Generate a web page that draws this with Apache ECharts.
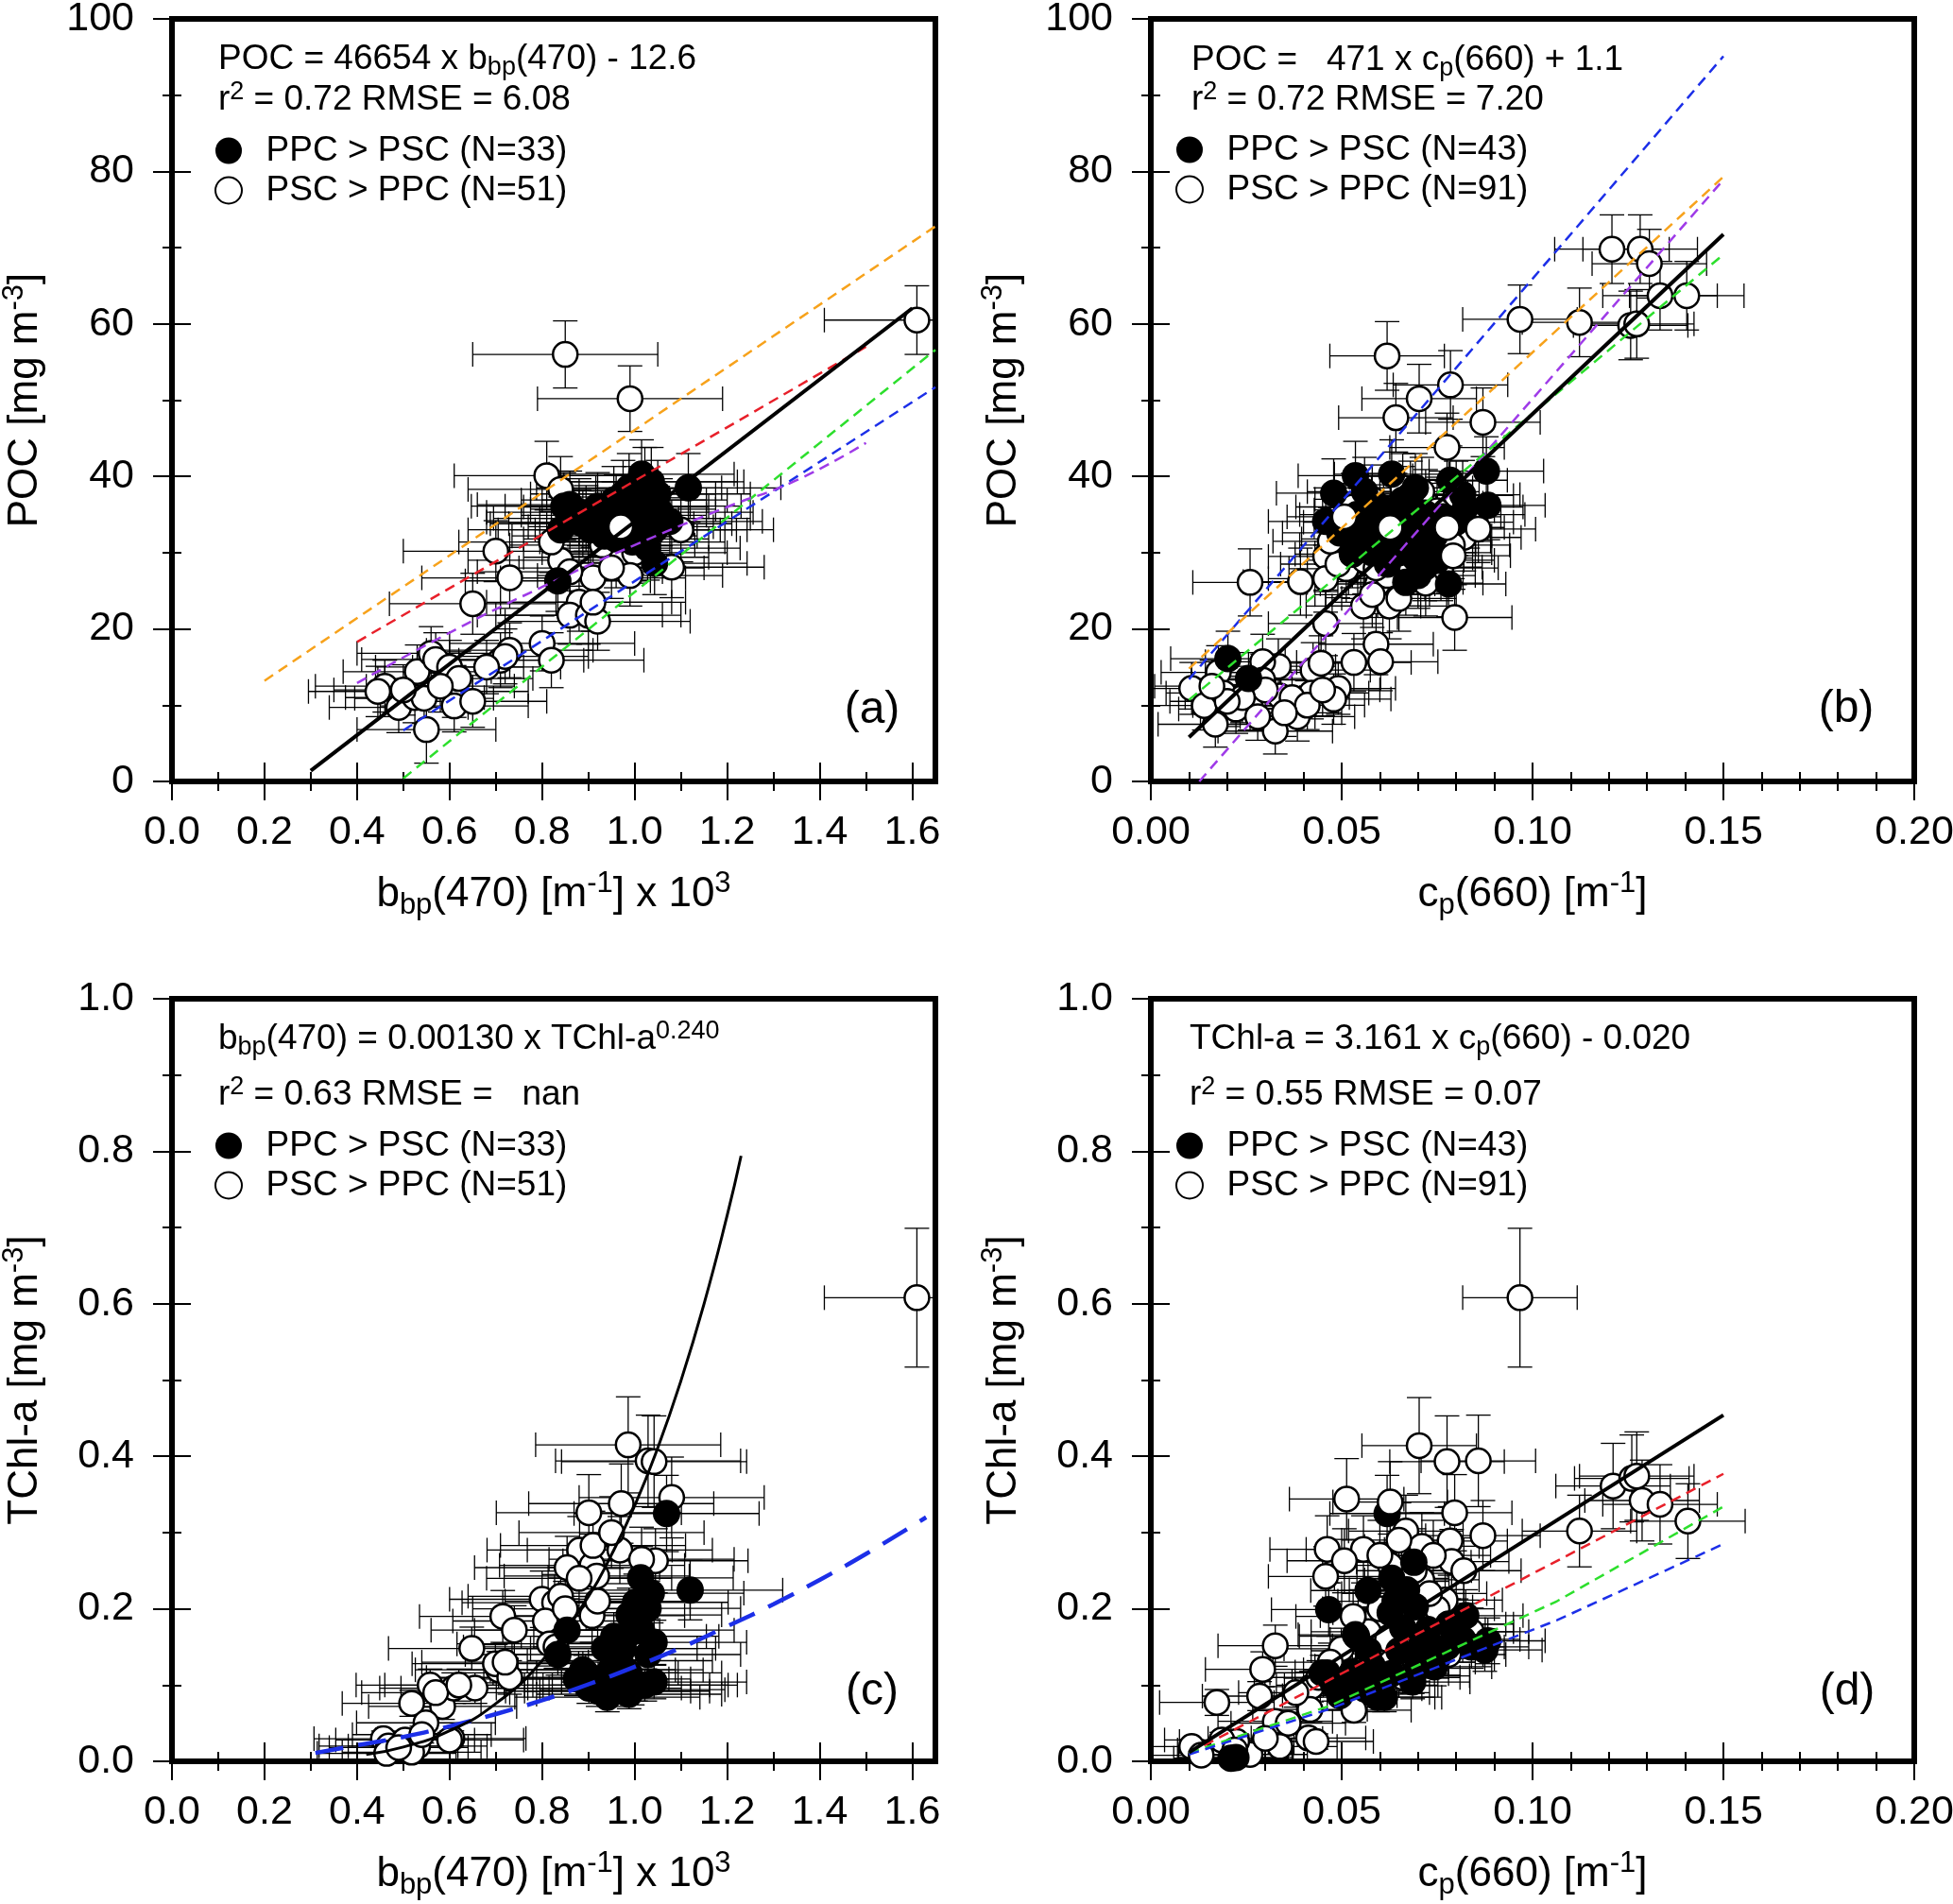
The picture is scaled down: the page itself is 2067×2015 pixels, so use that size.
<!DOCTYPE html>
<html><head><meta charset="utf-8">
<script src="https://cdn.jsdelivr.net/npm/echarts@6/dist/echarts.min.js"></script>
<style>html,body{margin:0;padding:0;background:#fff}#c{width:2067px;height:2015px}</style>
</head><body><div id="c"></div>
<script>
// ---------------- tick values ----------------
const bbpMajor = [0, 0.2, 0.4, 0.6, 0.8, 1.0, 1.2, 1.4, 1.6];
const bbpMinor = [0.1, 0.3, 0.5, 0.7, 0.9, 1.1, 1.3, 1.5];
const cpMajor = [0, 0.05, 0.1, 0.15, 0.2];
const cpMinor = [0.01, 0.02, 0.03, 0.04, 0.06, 0.07, 0.08, 0.09, 0.11, 0.12, 0.13, 0.14, 0.16, 0.17, 0.18, 0.19];
const pocMajor = [0, 20, 40, 60, 80, 100];
const pocMinor = [10, 30, 50, 70, 90];
const chlMajor = [0, 0.2, 0.4, 0.6, 0.8, 1.0];
const chlMinor = [0.1, 0.3, 0.5, 0.7, 0.9];

// ---------------- data: [x, y, xErr, yErr] ----------------
// (a) POC vs bbp(470)
const aFilled = [[1.116,38.5,0.2,4.5],[1.015,40.3,0.2,4.5],[1.022,39.3,0.2,4.5],[0.988,38.5,0.2,4.5],[1.0,36.9,0.2,4.4],[1.03,36.1,0.2,4.4],[0.847,36.1,0.2,4.4],[0.86,36.3,0.2,4.4],[0.88,35.3,0.2,4.4],[0.84,33.0,0.2,4.3],[0.905,33.0,0.2,4.3],[0.928,33.8,0.2,4.3],[0.955,34.9,0.2,4.4],[0.975,35.7,0.2,4.4],[0.995,34.5,0.2,4.4],[1.043,33.0,0.2,4.3],[1.076,34.1,0.2,4.3],[0.995,31.4,0.2,4.2],[1.028,30.6,0.2,4.2],[1.043,28.6,0.2,4.1],[0.834,26.3,0.2,4.0],[0.935,32.2,0.2,4.3],[0.96,31.8,0.2,4.3],[0.975,37.7,0.2,4.4],[0.92,36.1,0.2,4.4],[1.05,37.7,0.2,4.4],[1.01,33.8,0.2,4.3],[0.895,34.5,0.2,4.3],[1.056,35.3,0.2,4.4],[0.955,36.9,0.2,4.4],[0.985,33.0,0.2,4.3],[0.888,33.8,0.2,4.3],[1.036,39.3,0.2,4.5]];
const aOpen = [[1.61,60.5,0.2,4.5],[0.85,56.0,0.2,4.4],[0.99,50.2,0.2,4.3],[0.81,40.1,0.2,4.5],[0.84,38.3,0.2,4.3],[0.70,30.2,0.2,4.0],[0.73,26.7,0.19,4.0],[0.65,23.3,0.18,4.0],[1.05,34.5,0.2,4.2],[1.08,28.1,0.2,4.0],[0.96,29.4,0.2,4.0],[0.91,26.7,0.2,4.0],[0.84,29.0,0.2,4.0],[0.82,31.4,0.2,4.0],[0.88,23.5,0.2,3.8],[0.86,21.8,0.2,3.8],[0.90,21.8,0.2,3.8],[0.92,21.0,0.2,3.8],[0.91,23.5,0.2,3.8],[0.80,18.1,0.2,3.6],[0.82,15.9,0.2,3.6],[0.71,15.9,0.18,3.6],[0.73,17.2,0.18,3.6],[0.72,16.4,0.18,3.6],[0.53,14.4,0.16,3.5],[0.56,16.8,0.16,3.5],[0.57,16.0,0.16,3.5],[0.60,15.0,0.16,3.5],[0.61,11.8,0.16,3.4],[0.61,9.9,0.16,3.4],[0.65,10.5,0.16,3.4],[0.46,12.5,0.15,3.4],[0.49,9.7,0.15,3.3],[0.525,11.0,0.15,3.3],[0.545,10.9,0.15,3.3],[0.55,6.8,0.15,4.4],[0.445,11.8,0.15,3.3],[0.93,31.0,0.2,4.0],[1.00,30.0,0.2,4.0],[0.88,34.0,0.2,4.2],[0.96,36.0,0.2,4.2],[1.02,33.0,0.2,4.2],[0.62,13.5,0.16,3.5],[0.50,12.0,0.15,3.3],[0.58,12.5,0.16,3.4],[0.68,15.0,0.16,3.5],[1.10,33.0,0.2,4.2],[0.99,27.0,0.2,4.0],[0.86,27.5,0.2,4.0],[0.95,28.0,0.2,4.0]];
const aOpenTop = [[0.97,33.4,0.2,4.2]];
const aFit = [[0.3,1.4],[1.6,62.05]];
const aOrange = [[0.2,13.2],[1.65,72.8]];
const aRed = [[0.4,18.3],[1.5,57.0]];
const aGreen = [[0.5,0.4],[1.65,56.6]];
const aBlue = [[0.5,6.7],[1.65,51.7]];
const aPurple = [[0.40,12.9],[0.6,19.5],[0.8,25.5],[1.0,31.0],[1.2,36.0],[1.35,39.5],[1.5,44.4]];

// (b) POC vs cp(660)
const bFilled = [[0.0536,40.1,0.015,4.5],[0.0631,40.3,0.015,4.5],[0.0479,37.8,0.015,4.5],[0.0693,38.5,0.015,4.5],[0.0784,39.5,0.015,4.5],[0.0879,40.7,0.015,4.5],[0.0883,36.2,0.015,4.5],[0.0817,37.6,0.015,4.5],[0.0458,34.1,0.015,4.4],[0.0578,35.6,0.015,4.4],[0.066,36.9,0.015,4.4],[0.0718,35.2,0.015,4.4],[0.0545,31.8,0.015,4.4],[0.0495,32.6,0.015,4.4],[0.0594,31.1,0.015,4.4],[0.0701,31.1,0.015,4.4],[0.0743,32.2,0.015,4.4],[0.0718,28.1,0.015,4.4],[0.0668,26.1,0.015,4.3],[0.078,25.9,0.015,4.3],[0.0693,29.3,0.015,4.4],[0.0644,33.6,0.015,4.4],[0.0677,34.4,0.015,4.4],[0.0825,36.0,0.015,4.4],[0.0528,29.8,0.015,4.4],[0.0202,16.1,0.015,3.6],[0.0256,13.5,0.015,3.4],[0.0743,30.0,0.015,4.4],[0.0578,33.5,0.015,4.4],[0.0767,34.7,0.015,4.4],[0.060,36.0,0.015,4.4],[0.065,30.0,0.015,4.4],[0.056,38.0,0.015,4.5],[0.072,33.0,0.015,4.4],[0.068,37.5,0.015,4.5],[0.062,28.5,0.015,4.4],[0.075,29.0,0.015,4.4],[0.058,30.0,0.015,4.4],[0.070,27.0,0.015,4.3],[0.064,35.0,0.015,4.4],[0.066,32.0,0.015,4.4],[0.080,34.0,0.015,4.4],[0.054,35.0,0.015,4.4]];
const bOpen = [[0.0619,55.8,0.015,4.5],[0.0785,52.0,0.015,4.5],[0.0703,50.2,0.015,4.5],[0.0642,47.7,0.015,4.5],[0.087,47.1,0.015,4.5],[0.0776,43.8,0.015,4.5],[0.0458,29.5,0.015,4.4],[0.0512,27.9,0.015,4.4],[0.026,26.1,0.015,4.4],[0.0392,26.2,0.015,4.4],[0.0458,26.6,0.015,4.4],[0.0594,25.9,0.015,4.4],[0.0557,23.0,0.015,4.3],[0.0625,23.0,0.015,4.3],[0.0796,21.5,0.015,4.3],[0.0458,20.7,0.015,4.2],[0.059,18.0,0.015,4.0],[0.0602,15.7,0.015,3.8],[0.0532,15.6,0.015,3.8],[0.0425,14.6,0.015,3.6],[0.0334,15.1,0.015,3.6],[0.0293,15.7,0.015,3.6],[0.0177,14.3,0.015,3.5],[0.0107,12.2,0.015,3.4],[0.0491,12.2,0.015,3.4],[0.0421,11.6,0.015,3.4],[0.0479,10.8,0.015,3.3],[0.0338,11.2,0.015,3.3],[0.0293,13.3,0.015,3.4],[0.0384,8.5,0.015,3.2],[0.0326,6.6,0.015,3.0],[0.026,9.95,0.015,3.2],[0.0169,7.5,0.015,3.0],[0.014,9.95,0.015,3.2],[0.0223,9.5,0.015,3.2],[0.019,11.6,0.015,3.3],[0.0446,15.5,0.015,3.6],[0.1208,69.8,0.015,4.5],[0.1282,69.8,0.015,4.5],[0.1306,67.9,0.015,4.5],[0.1123,60.2,0.015,4.5],[0.0967,60.6,0.015,4.5],[0.1257,59.8,0.015,4.5],[0.1273,60.0,0.015,4.5],[0.1334,63.7,0.015,4.5],[0.1404,63.7,0.015,4.5],[0.0600,32.0,0.015,4.4],[0.0650,31.0,0.015,4.4],[0.0700,30.0,0.015,4.4],[0.0560,29.0,0.015,4.4],[0.0680,35.0,0.015,4.4],[0.0740,31.5,0.015,4.4],[0.0720,36.5,0.015,4.4],[0.0540,31.0,0.015,4.4],[0.0490,28.5,0.015,4.4],[0.0620,27.0,0.015,4.3],[0.0660,38.5,0.015,4.5],[0.0800,37.5,0.015,4.5],[0.0830,35.0,0.015,4.4],[0.0580,37.0,0.015,4.5],[0.0640,36.0,0.015,4.4],[0.0760,28.0,0.015,4.3],[0.0370,11.0,0.015,3.3],[0.0300,12.0,0.015,3.4],[0.0240,11.0,0.015,3.3],[0.0410,10.0,0.015,3.2],[0.0450,12.0,0.015,3.4],[0.0200,10.5,0.015,3.3],[0.0280,8.5,0.015,3.1],[0.0350,9.0,0.015,3.1],[0.0160,12.5,0.015,3.4],[0.0580,24.5,0.015,4.3],[0.0650,24.0,0.015,4.3],[0.0720,26.0,0.015,4.3],[0.0550,34.0,0.015,4.4],[0.0820,32.0,0.015,4.4],[0.0610,34.5,0.015,4.4],[0.0690,33.0,0.015,4.4],[0.0750,35.5,0.015,4.4],[0.0530,36.0,0.015,4.4],[0.0670,29.0,0.015,4.4],[0.0790,31.0,0.015,4.4],[0.0470,31.5,0.015,4.4],[0.0590,28.0,0.015,4.4],[0.0710,38.0,0.015,4.5],[0.0630,30.0,0.015,4.4]];
const bOpenTop = [[0.0507,34.7,0.015,4.4],[0.0627,33.3,0.015,4.4],[0.0776,33.3,0.015,4.4],[0.0858,33.1,0.015,4.4],[0.0792,29.6,0.015,4.4]];
const bFit = [[0.01,5.8],[0.15,71.75]];
const bBlue = [[0.01,13.4],[0.15,95.1]];
const bOrange = [[0.01,14.8],[0.15,79.3]];
const bPurple = [[0.0127,0],[0.15,78.9]];
const bGreen = [[0.01,10.7],[0.15,69.1]];

// (c) TChl-a vs bbp(470)
const cFilled = [[1.069,0.325,0.2,0.05],[1.12,0.2245,0.2,0.039],[1.013,0.2406,0.2,0.041],[1.036,0.2205,0.2,0.039],[1.029,0.2005,0.2,0.036],[0.988,0.192,0.2,0.035],[1.002,0.2085,0.2,0.037],[1.042,0.156,0.2,0.029],[1.015,0.172,0.2,0.032],[0.955,0.164,0.2,0.031],[0.935,0.148,0.2,0.028],[0.975,0.148,0.2,0.028],[0.968,0.132,0.2,0.026],[0.854,0.172,0.2,0.032],[0.834,0.140,0.2,0.027],[0.894,0.116,0.2,0.023],[0.921,0.108,0.2,0.022],[0.962,0.100,0.2,0.021],[1.002,0.100,0.2,0.021],[1.042,0.104,0.2,0.022],[0.921,0.092,0.2,0.02],[0.962,0.092,0.2,0.02],[0.995,0.094,0.2,0.02],[0.888,0.12,0.2,0.024],[0.948,0.12,0.2,0.024],[1.022,0.10,0.2,0.021],[0.988,0.116,0.2,0.023],[0.941,0.084,0.2,0.019],[0.901,0.096,0.2,0.02],[0.982,0.164,0.2,0.031],[1.029,0.14,0.2,0.027],[0.874,0.108,0.2,0.022],[0.988,0.088,0.2,0.019]];
const cOpen = [[1.61,0.608,0.2,0.091],[0.986,0.415,0.2,0.063],[1.029,0.394,0.2,0.06],[1.042,0.393,0.2,0.06],[1.08,0.346,0.2,0.053],[0.971,0.338,0.2,0.052],[0.901,0.326,0.2,0.05],[0.881,0.277,0.2,0.044],[0.968,0.277,0.2,0.044],[0.908,0.257,0.2,0.041],[1.045,0.263,0.2,0.042],[0.918,0.243,0.2,0.039],[0.854,0.254,0.2,0.041],[1.015,0.265,0.2,0.042],[0.80,0.2125,0.2,0.037],[0.827,0.208,0.2,0.037],[0.84,0.2165,0.2,0.038],[0.807,0.184,0.2,0.034],[0.908,0.191,0.2,0.035],[0.816,0.154,0.2,0.029],[0.715,0.19,0.18,0.034],[0.74,0.172,0.18,0.032],[0.648,0.148,0.18,0.028],[0.706,0.12,0.18,0.024],[0.699,0.128,0.18,0.025],[0.518,0.076,0.15,0.017],[0.558,0.100,0.16,0.021],[0.585,0.072,0.16,0.017],[0.609,0.096,0.16,0.02],[0.655,0.096,0.16,0.02],[0.549,0.0505,0.15,0.014],[0.457,0.0297,0.15,0.01],[0.468,0.02,0.15,0.009],[0.464,0.0104,0.15,0.007],[0.504,0.028,0.15,0.01],[0.531,0.02,0.15,0.009],[0.605,0.03,0.16,0.01],[0.518,0.012,0.15,0.007],[0.91,0.283,0.2,0.045],[0.92,0.21,0.2,0.037],[0.85,0.20,0.2,0.036],[0.73,0.11,0.18,0.022],[0.57,0.09,0.16,0.019],[0.60,0.028,0.16,0.01],[0.49,0.018,0.15,0.008],[0.83,0.15,0.2,0.028],[0.95,0.30,0.2,0.047],[0.54,0.035,0.15,0.011],[0.62,0.10,0.16,0.021],[0.88,0.24,0.2,0.039],[0.72,0.13,0.18,0.025]];
const cFit = [[0.42,0.009],[0.5,0.0187],[0.6,0.040],[0.7,0.0758],[0.8,0.132],[0.9,0.216],[0.95,0.271],[1.0,0.335],[1.05,0.411],[1.1,0.499],[1.15,0.600],[1.2,0.716],[1.23,0.794]];
const cBlue = [[0.31,0.011],[0.4,0.021],[0.5,0.032],[0.6,0.046],[0.7,0.062],[0.8,0.080],[0.9,0.101],[1.0,0.124],[1.1,0.149],[1.2,0.177],[1.3,0.206],[1.4,0.238],[1.5,0.272],[1.63,0.320]];

// (d) TChl-a vs cp(660)
const dFilled = [[0.0619,0.325,0.015,0.05],[0.0466,0.199,0.015,0.035],[0.0569,0.224,0.015,0.039],[0.0631,0.240,0.015,0.041],[0.0689,0.261,0.015,0.044],[0.0627,0.195,0.015,0.035],[0.0693,0.2025,0.015,0.036],[0.0536,0.166,0.015,0.031],[0.0825,0.191,0.015,0.034],[0.071,0.154,0.015,0.029],[0.0776,0.150,0.015,0.028],[0.0883,0.158,0.015,0.03],[0.0875,0.146,0.015,0.028],[0.0685,0.112,0.015,0.023],[0.0602,0.100,0.015,0.021],[0.0479,0.100,0.015,0.021],[0.0528,0.117,0.015,0.024],[0.0495,0.086,0.015,0.019],[0.0594,0.084,0.015,0.019],[0.0462,0.116,0.015,0.023],[0.0743,0.124,0.015,0.025],[0.0817,0.160,0.015,0.03],[0.0726,0.173,0.015,0.032],[0.0223,0.005,0.015,0.006],[0.065,0.145,0.015,0.028],[0.057,0.145,0.015,0.028],[0.0612,0.084,0.015,0.019],[0.0686,0.104,0.015,0.022],[0.0449,0.116,0.015,0.023],[0.0539,0.164,0.015,0.031],[0.021,0.004,0.015,0.006],[0.064,0.21,0.015,0.037],[0.066,0.175,0.015,0.032],[0.075,0.135,0.015,0.026],[0.080,0.17,0.015,0.031],[0.058,0.125,0.015,0.025],[0.052,0.105,0.015,0.022],[0.070,0.13,0.015,0.025],[0.084,0.15,0.015,0.028],[0.063,0.115,0.015,0.023],[0.078,0.18,0.015,0.033],[0.056,0.095,0.015,0.02],[0.067,0.225,0.015,0.039]];
const dOpen = [[0.0703,0.414,0.015,0.063],[0.0776,0.393,0.015,0.06],[0.0858,0.394,0.015,0.06],[0.0513,0.344,0.015,0.053],[0.0796,0.326,0.015,0.05],[0.0668,0.302,0.015,0.047],[0.087,0.296,0.015,0.046],[0.071,0.282,0.015,0.044],[0.0462,0.278,0.015,0.044],[0.0557,0.278,0.015,0.044],[0.0784,0.289,0.015,0.045],[0.0507,0.263,0.015,0.042],[0.0788,0.262,0.015,0.042],[0.0627,0.257,0.015,0.041],[0.0458,0.2425,0.015,0.039],[0.071,0.238,0.015,0.038],[0.0771,0.2115,0.015,0.035],[0.0594,0.191,0.015,0.032],[0.0499,0.1475,0.015,0.027],[0.0326,0.1516,0.015,0.027],[0.0293,0.1206,0.015,0.023],[0.0421,0.098,0.015,0.02],[0.0285,0.0855,0.015,0.019],[0.0326,0.0524,0.015,0.014],[0.0173,0.0772,0.015,0.017],[0.0107,0.0194,0.015,0.009],[0.026,0.009,0.015,0.007],[0.0338,0.0194,0.015,0.009],[0.0413,0.0306,0.015,0.011],[0.0433,0.026,0.015,0.01],[0.0532,0.067,0.015,0.016],[0.0417,0.068,0.015,0.016],[0.0225,0.026,0.015,0.01],[0.0186,0.028,0.015,0.01],[0.0132,0.008,0.015,0.007],[0.0967,0.608,0.015,0.091],[0.1211,0.361,0.015,0.056],[0.126,0.371,0.015,0.057],[0.1273,0.374,0.015,0.058],[0.1287,0.342,0.015,0.053],[0.1334,0.337,0.015,0.052],[0.1407,0.315,0.015,0.049],[0.1123,0.302,0.015,0.047],[0.060,0.20,0.015,0.036],[0.065,0.22,0.015,0.039],[0.070,0.18,0.015,0.033],[0.075,0.20,0.015,0.036],[0.068,0.16,0.015,0.03],[0.080,0.18,0.015,0.033],[0.057,0.17,0.015,0.031],[0.063,0.13,0.015,0.025],[0.072,0.14,0.015,0.027],[0.055,0.12,0.015,0.024],[0.050,0.10,0.015,0.021],[0.047,0.13,0.015,0.025],[0.058,0.09,0.015,0.019],[0.066,0.11,0.015,0.022],[0.078,0.14,0.015,0.027],[0.084,0.17,0.015,0.031],[0.062,0.16,0.015,0.03],[0.053,0.19,0.015,0.034],[0.073,0.22,0.015,0.039],[0.069,0.25,0.015,0.043],[0.082,0.25,0.015,0.043],[0.060,0.27,0.015,0.046],[0.074,0.27,0.015,0.046],[0.065,0.29,0.015,0.049],[0.036,0.05,0.015,0.014],[0.030,0.03,0.015,0.011],[0.022,0.015,0.015,0.008],[0.038,0.09,0.015,0.019],[0.044,0.11,0.015,0.022]];
const dOpenTop = [[0.0627,0.340,0.015,0.053]];
const dFit = [[0.01,0.0116],[0.15,0.454]];
const dRed = [[0.01,0.0104],[0.15,0.377]];
const dGreen = [[0.01,0.011],[0.047,0.073],[0.1064,0.21],[0.15,0.334]];
const dBlue = [[0.01,0.009],[0.047,0.069],[0.1064,0.185],[0.15,0.285]];

// ---------------- text ----------------
const nameA = 'PPC > PSC (N=33)', nameB = 'PSC > PPC (N=51)';
const nameC = 'PPC > PSC (N=43)', nameD = 'PSC > PPC (N=91)';

// ---------------- styling ----------------
const FF = "'Liberation Sans', Arial, Helvetica, sans-serif";
const C_OR = '#f7a21b', C_RED = '#e8202a', C_GR = '#2ddf2d', C_BL = '#1c2fe8', C_PU = '#9f3be8';
const W = 808, H = 807;
const grids = [{left:182, top:20}, {left:1218, top:20}, {left:182, top:1057}, {left:1218, top:1057}];

const annRich = {
  n:   {fontSize:37, fontFamily:FF, fontWeight:'normal', color:'#000', lineHeight:44},
  sub: {fontSize:27, fontFamily:FF, fontWeight:'normal', color:'#000', lineHeight:44, verticalAlign:'bottom'},
  sup: {fontSize:27, fontFamily:FF, fontWeight:'normal', color:'#000', lineHeight:44, verticalAlign:'top'}
};
const nameRich = {
  n:   {fontSize:44, fontFamily:FF, fontWeight:'normal', color:'#000', lineHeight:54},
  sub: {fontSize:31, fontFamily:FF, fontWeight:'normal', color:'#000', lineHeight:54, verticalAlign:'bottom'},
  sup: {fontSize:31, fontFamily:FF, fontWeight:'normal', color:'#000', lineHeight:54, verticalAlign:'top'}
};
const tickLS = {color:'#000', width:2};

function axisSet(isX, g, min, max, major, minor, fmt, name) {
  const pos = isX ? ['bottom','top'] : ['left','right'];
  const base = {gridIndex:g, type:'value', min:min, max:max, axisLine:{show:false}, splitLine:{show:false}, minorTick:{show:false}, minorSplitLine:{show:false}, silent:true, axisPointer:{show:false}};
  return [
    Object.assign({}, base, {position:pos[0],
      axisTick:{show:true, inside:false, customValues:major, length:20, lineStyle:tickLS},
      axisLabel:{show:true, customValues:major, formatter:fmt, fontSize:43, fontFamily:FF, color:'#000', margin: isX ? 33 : 40},
      name:name, nameLocation:'middle', nameGap: isX ? 93 : 128, nameTextStyle:{rich:nameRich}}),
    Object.assign({}, base, {position:pos[0], axisTick:{show:true, inside:false, customValues:minor, length:10, lineStyle:tickLS}, axisLabel:{show:false}}),
    Object.assign({}, base, {position:pos[1], axisTick:{show:true, inside:false, customValues:major, length:20, lineStyle:tickLS}, axisLabel:{show:false}}),
    Object.assign({}, base, {position:pos[1], axisTick:{show:true, inside:false, customValues:minor, length:10, lineStyle:tickLS}, axisLabel:{show:false}})
  ];
}
const f1 = v => v.toFixed(1), f2 = v => v.toFixed(2), f0 = v => String(Math.round(v));
const xNameBbp = '{n|b}{sub|bp}{n|(470) [m}{sup|-1}{n|] x 10}{sup|3}';
const xNameCp = '{n|c}{sub|p}{n|(660) [m}{sup|-1}{n|]}';
const yNamePoc = '{n|POC [mg m}{sup|-3}{n|]}';
const yNameChl = '{n|TChl-a [mg m}{sup|-3}{n|]}';

const xAxis = [].concat(
  axisSet(true, 0, 0, 1.65, bbpMajor, bbpMinor, f1, xNameBbp),
  axisSet(true, 1, 0, 0.2, cpMajor, cpMinor, f2, xNameCp),
  axisSet(true, 2, 0, 1.65, bbpMajor, bbpMinor, f1, xNameBbp),
  axisSet(true, 3, 0, 0.2, cpMajor, cpMinor, f2, xNameCp)
);
const yAxis = [].concat(
  axisSet(false, 0, 0, 100, pocMajor, pocMinor, f0, yNamePoc),
  axisSet(false, 1, 0, 100, pocMajor, pocMinor, f0, yNamePoc),
  axisSet(false, 2, 0, 1.0, chlMajor, chlMinor, f1, yNameChl),
  axisSet(false, 3, 0, 1.0, chlMajor, chlMinor, f1, yNameChl)
);

function errRender(params, api) {
  const x = api.value(0), y = api.value(1), xe = api.value(2), ye = api.value(3);
  const c = api.coord([x, y]);
  const l = api.coord([x - xe, y])[0], r = api.coord([x + xe, y])[0];
  const t = api.coord([x, y + ye])[1], b = api.coord([x, y - ye])[1];
  const cap = 13;
  const st = {stroke:'#000', lineWidth:1.3, fill:null};
  const L = (x1,y1,x2,y2) => ({type:'line', shape:{x1,y1,x2,y2}, style:st});
  return {type:'group', children:[
    L(l, c[1], r, c[1]), L(l, c[1]-cap, l, c[1]+cap), L(r, c[1]-cap, r, c[1]+cap),
    L(c[0], t, c[0], b), L(c[0]-cap, t, c[0]+cap, t), L(c[0]-cap, b, c[0]+cap, b)
  ]};
}
function errS(g, data) {
  return {type:'custom', xAxisIndex:4*g, yAxisIndex:4*g, data:data, dimensions:['x','y','xe','ye'], encode:{x:0, y:1},
    renderItem:errRender, clip:true, z:1, silent:true};
}
function openS(g, name, data, z) {
  return {type:'scatter', name:name, xAxisIndex:4*g, yAxisIndex:4*g, data:data, symbol:'circle', symbolSize:26,
    itemStyle:{color:'#fff', borderColor:'#000', borderWidth:2.5, opacity:1}, z:z, silent:true, emphasis:{disabled:true}, clip:true};
}
function fillS(g, name, data) {
  return {type:'scatter', name:name, xAxisIndex:4*g, yAxisIndex:4*g, data:data, symbol:'circle', symbolSize:29,
    itemStyle:{color:'#000', opacity:1}, z:3, silent:true, emphasis:{disabled:true}, clip:true};
}
function lineS(g, data, color, width, dash, smooth) {
  return {type:'line', xAxisIndex:4*g, yAxisIndex:4*g, data:data, showSymbol:false, symbol:'none', smooth:!!smooth,
    lineStyle:{color:color, width:width, type:dash, cap:'butt'}, z:5, silent:true, clip:true, emphasis:{disabled:true}};
}
const DASH = [11, 7];

const series = [
  // (a)
  errS(0, aOpen), errS(0, aFilled), errS(0, aOpenTop),
  openS(0, nameB, aOpen, 2), fillS(0, nameA, aFilled), openS(0, nameB, aOpenTop, 4),
  lineS(0, aOrange, C_OR, 2.5, DASH), lineS(0, aRed, C_RED, 2.5, DASH), lineS(0, aGreen, C_GR, 2.5, DASH),
  lineS(0, aBlue, C_BL, 2.5, DASH), lineS(0, aPurple, C_PU, 2.5, DASH, true), lineS(0, aFit, '#000', 4, 'solid'),
  // (b)
  errS(1, bOpen), errS(1, bFilled), errS(1, bOpenTop),
  openS(1, nameD, bOpen, 2), fillS(1, nameC, bFilled), openS(1, nameD, bOpenTop, 4),
  lineS(1, bBlue, C_BL, 2.5, DASH), lineS(1, bOrange, C_OR, 2.5, DASH), lineS(1, bPurple, C_PU, 2.5, DASH),
  lineS(1, bGreen, C_GR, 2.5, DASH), lineS(1, bFit, '#000', 4, 'solid'),
  // (c)
  errS(2, cOpen), errS(2, cFilled),
  openS(2, nameB, cOpen, 2), fillS(2, nameA, cFilled),
  lineS(2, cBlue, C_BL, 4.5, [30, 16], true), lineS(2, cFit, '#000', 3, 'solid', true),
  // (d)
  errS(3, dOpen), errS(3, dFilled), errS(3, dOpenTop),
  openS(3, nameD, dOpen, 2), fillS(3, nameC, dFilled), openS(3, nameD, dOpenTop, 4),
  lineS(3, dRed, C_RED, 2.5, DASH), lineS(3, dGreen, C_GR, 2.5, DASH), lineS(3, dBlue, C_BL, 2.5, DASH),
  lineS(3, dFit, '#000', 4, 'solid')
];

function tl(left, top, text) { return {left:left, top:top, text:text, padding:0, textStyle:{fontWeight:'normal', rich:annRich}}; }
const title = [
  tl(231, 41, '{n|POC = 46654 x b}{sub|bp}{n|(470) - 12.6}'),
  tl(231, 84, '{n|r}{sup|2}{n| = 0.72 RMSE = 6.08}'),
  tl(1261, 42, '{n|POC =   471 x c}{sub|p}{n|(660) + 1.1}'),
  tl(1261, 84, '{n|r}{sup|2}{n| = 0.72 RMSE = 7.20}'),
  tl(231, 1078, '{n|b}{sub|bp}{n|(470) = 0.00130 x TChl-a}{sup|0.240}'),
  tl(231, 1137, '{n|r}{sup|2}{n| = 0.63 RMSE =   nan}'),
  tl(1259, 1078, '{n|TChl-a = 3.161 x c}{sub|p}{n|(660) - 0.020}'),
  tl(1259, 1137, '{n|r}{sup|2}{n| = 0.55 RMSE = 0.07}')
];
function lg(left, top, names) {
  return {left:left, top:top, orient:'vertical', itemWidth:28, itemHeight:28, itemGap:5, padding:0, data:names,
    selectedMode:false, formatter: n => '  ' + n, textStyle:{fontSize:37, lineHeight:28, fontFamily:FF, color:'#000'}};
}
const legend = [
  lg(227, 141, [nameA, nameB]), lg(1244, 140, [nameC, nameD]),
  lg(227, 1194, [nameA, nameB]), lg(1244, 1194, [nameC, nameD])
];
function pl(x, y, t) { return {type:'text', x:x, y:y, silent:true, style:{text:t, fontSize:48, fontFamily:FF, fill:'#000', align:'center', verticalAlign:'middle'}}; }

const option = {
  backgroundColor:'#fff',
  animation:false,
  title:title,
  legend:legend,
  grid: grids.map(g => ({left:g.left, top:g.top, width:W, height:H, show:true, borderColor:'#000', borderWidth:6, backgroundColor:'transparent', containLabel:false, outerBoundsMode:'none'})),
  xAxis:xAxis, yAxis:yAxis, series:series,
  graphic:[pl(923, 752, '(a)'), pl(1954, 751, '(b)'), pl(923, 1791, '(c)'), pl(1955, 1791, '(d)')]
};
const chart = echarts.init(document.getElementById('c'), null, {renderer:'canvas'});
chart.setOption(option);
</script></body></html>
